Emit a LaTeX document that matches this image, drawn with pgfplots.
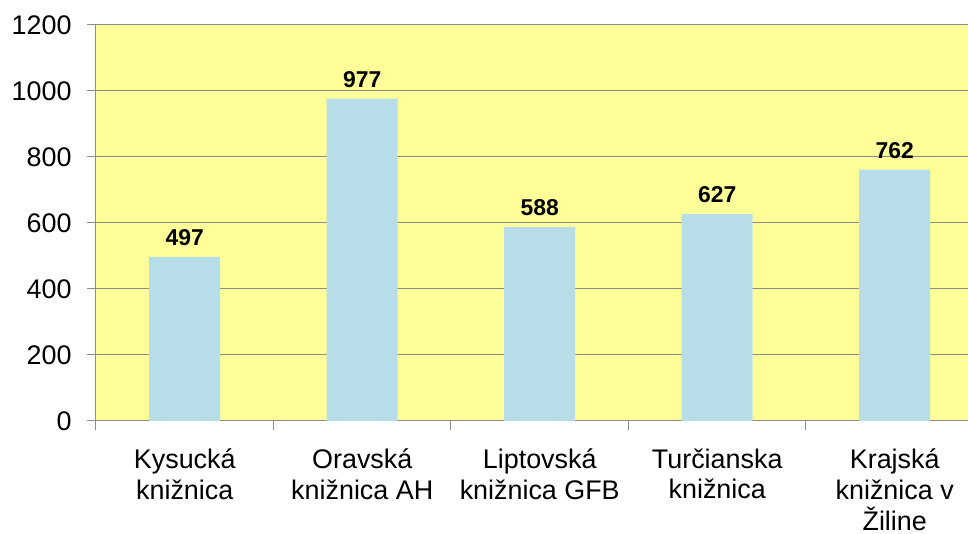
\documentclass[border=0pt]{standalone}
\usepackage{pgfplots}
\pgfplotsset{compat=1.18}
\usepackage{fontspec}
\setmainfont{Liberation Sans}
\definecolor{bg}{HTML}{FFFF99}
\definecolor{barc}{HTML}{B7DEE8}
\definecolor{gridc}{HTML}{8C8C8C}
\begin{document}
\begin{tikzpicture}[x=1bp,y=1bp]
\begin{axis}[
  at={(0,0)}, anchor=south west,
  scale only axis, width=872bp, height=396bp,
  xmin=-0.5, xmax=4.413, ymin=0, ymax=1200,
  axis x line*=bottom, axis y line*=left,
  axis line style={gridc, line width=1bp},
  axis background/.style={fill=bg},
  ytick={0,200,...,1200},
  ymajorgrids, grid style={gridc, line width=1bp},
  ybar, bar width=0.4, bar shift=0,
  xtick={0,1,2,3,4},
  xticklabels={{Kysucká\\knižnica},{Oravská\\knižnica AH},{Liptovská\\knižnica GFB},{Turčianska\\knižnica},{Krajská\\knižnica v\\Žiline}},
  major x tick style={draw=none},
  minor xtick={-0.5,0.5,1.5,2.5,3.5},
  minor x tick style={gridc, line width=1bp},
  ytick style={gridc, line width=1bp},
  tick align=outside,
  major tick length=9bp, minor tick length=9bp,
  xticklabel style={align=center, font=\fontsize{27}{31}\selectfont, anchor=north, yshift=-15bp},
  yticklabel style={font=\fontsize{27}{31}\selectfont, xshift=-12bp},
  /pgf/number format/assume math mode=true,
  /pgf/number format/1000 sep={},
  nodes near coords,
  nodes near coords style={font=\bfseries\fontsize{23}{25}\selectfont, anchor=south, inner sep=0pt, yshift=11bp, black},
]
\addplot[fill=barc, draw=none] coordinates {(0,497) (1,977) (2,588) (3,627) (4,762)};
\end{axis}
\pgfresetboundingbox
\path (-96,-113) rectangle (872,421);
\end{tikzpicture}
\end{document}
